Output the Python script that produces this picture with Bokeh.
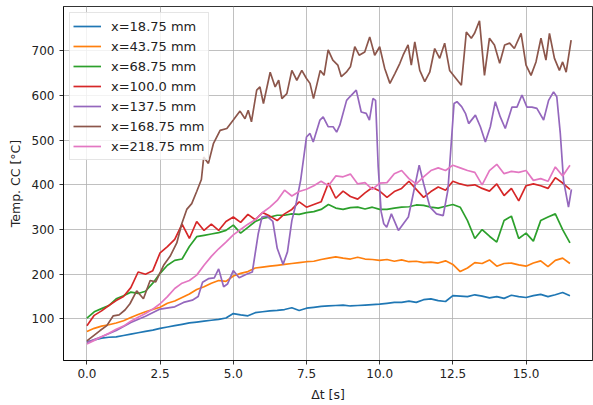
import numpy as np
from bokeh.plotting import figure
from bokeh.models import FixedTicker, NumeralTickFormatter, Legend, LegendItem, Range1d
from bokeh.embed import file_html
from bokeh.resources import INLINE

# ---- data ----
labels = ["x=18.75 mm", "x=43.75 mm", "x=68.75 mm", "x=100.0 mm",
          "x=137.5 mm", "x=168.75 mm", "x=218.75 mm"]
colors = ["#1f77b4", "#ff7f0e", "#2ca02c", "#d62728", "#9467bd", "#8c564b", "#e377c2"]

# common sampling time base (s)
t_grid = np.arange(0, 16.51, 0.25)

blue = [48, 53, 57, 59, 60, 63, 66, 69, 72, 75,
        79, 82, 85, 88, 91, 93, 95, 97, 99, 102,
        112, 109, 107, 114, 116, 118, 119, 121, 125, 119,
        124, 126, 128, 129, 130, 131, 129, 130, 131, 132,
        133, 135, 137, 137, 140, 137, 143, 145, 141, 139,
        152, 151, 150, 154, 151, 147, 150, 146, 153, 150,
        148, 152, 155, 150, 154, 159, 152]

orange = [72, 79, 84, 87, 91, 96, 103, 110, 116, 121,
          126, 135, 140, 148, 156, 166, 172, 180, 186, 184,
          196, 202, 206, 214, 216, 218, 220, 222, 224, 226,
          228, 229, 233, 236, 239, 236, 234, 238, 234, 233,
          231, 233, 229, 232, 228, 229, 226, 227, 225, 230,
          222, 206, 214, 226, 224, 232, 218, 224, 225, 221,
          218, 225, 230, 217, 231, 236, 224]

green = [102, 116, 123, 130, 145, 152, 160, 157, 162, 180,
         202, 220, 231, 234, 262, 284, 287, 290, 293, 298,
         310, 292, 305, 318, 325, 328, 332, 332, 335, 334,
         338, 340, 345, 356, 348, 345, 349, 350, 346, 350,
         345, 345, 348, 350, 351, 355, 354, 350, 348, 352,
         356, 350, 320, 280, 300, 285, 272, 320, 330, 280,
         292, 274, 320, 328, 335, 300, 270]

red = [85, 108, 118, 130, 141, 150, 170, 205, 200, 208,
       248, 262, 278, 312, 280, 318, 298, 312, 298, 318,
       328, 316, 334, 322, 338, 330, 320, 335, 345, 362,
       350, 356, 362, 404, 370, 386, 374, 368, 382, 394,
       386, 372, 385, 392, 408, 390, 372, 385, 395, 388,
       408, 402, 398, 400, 392, 386, 402, 376, 392, 364,
       398, 402, 398, 392, 416, 404, 390]

pink = [44, 52, 60, 68, 77, 84, 95, 104, 112, 122,
        134, 150, 168, 180, 186, 198, 220, 240, 257, 272,
        288, 300, 312, 322, 338, 350, 365, 388, 375, 385,
        390, 398, 408, 398, 420, 418, 424, 402, 405, 390,
        404, 405, 425, 432, 414, 402, 418, 432, 438, 432,
        444, 438, 432, 428, 400, 432, 446, 425, 430, 428,
        432, 410, 414, 408, 440, 420, 444]

t_purple = [0, 0.5, 1.0, 1.5, 2.0, 2.5, 3.0, 3.3, 3.6, 3.8,
            3.95, 4.15, 4.35, 4.5, 4.67, 4.8, 5.0, 5.2, 5.45, 5.65,
            5.85, 5.98, 6.15, 6.35, 6.5, 6.7, 6.85, 7.0, 7.15, 7.3,
            7.5, 7.62, 7.73, 7.96, 8.07, 8.24, 8.41, 8.53, 8.64, 8.87,
            8.98, 9.2, 9.37, 9.54, 9.65, 9.77, 9.86, 9.95, 10.05, 10.14,
            10.24, 10.4, 10.64, 10.81, 10.98, 11.1, 11.35, 11.5, 11.72, 11.94,
            12.17, 12.33, 12.42, 12.54, 12.64, 12.8, 12.93, 13.04, 13.27, 13.44,
            13.61, 13.78, 13.95, 14.12, 14.29, 14.52, 14.69, 14.86, 15.03, 15.2,
            15.37, 15.6, 15.77, 15.94, 16.05, 16.17, 16.28, 16.45, 16.55]
purple = [48, 60, 74, 92, 106, 122, 127, 137, 142, 150,
          182, 190, 192, 212, 172, 178, 208, 192, 200, 205,
          290, 328, 330, 318, 258, 222, 250, 320, 360, 410,
          507, 515, 496, 545, 552, 530, 530, 518, 534, 589,
          597, 612, 563, 560, 545, 593, 589, 440, 340, 313,
          305, 335, 298, 313, 328, 365, 444, 403, 350, 335,
          331, 388, 470, 582, 586, 575, 560, 537, 556, 530,
          496, 530, 586, 552, 526, 574, 574, 601, 574, 574,
          571, 545, 589, 608, 597, 515, 410, 350, 390]

t_brown = [0, 0.45, 0.68, 0.9, 1.1, 1.3, 1.47, 1.7, 1.93, 2.16,
           2.35, 2.62, 2.84, 3.07, 3.24, 3.41, 3.58, 3.75, 3.91, 3.99,
           4.15, 4.32, 4.55, 4.78, 5.0, 5.23, 5.4, 5.51, 5.62, 5.8,
           5.91, 6.03, 6.26, 6.43, 6.55, 6.66, 6.83, 7.0, 7.17, 7.34,
           7.5, 7.62, 7.74, 7.97, 8.1, 8.24, 8.4, 8.57, 8.69, 8.86,
           9.0, 9.15, 9.3, 9.49, 9.66, 9.83, 10.0, 10.17, 10.35, 10.52,
           10.69, 10.8, 10.97, 11.08, 11.2, 11.37, 11.54, 11.71, 11.88, 12.05,
           12.22, 12.39, 12.56, 12.79, 12.96, 13.13, 13.24, 13.41, 13.58, 13.75,
           13.92, 14.1, 14.27, 14.44, 14.6, 14.83, 15.0, 15.17, 15.34, 15.51,
           15.68, 15.8, 15.97, 16.14, 16.25, 16.37, 16.54]
brown = [51, 74, 85, 107, 109, 120, 134, 163, 145, 186,
         183, 220, 240, 270, 313, 345, 358, 385, 412, 462,
         448, 492, 522, 526, 545, 565, 548, 567, 541, 612,
         619, 582, 652, 619, 634, 593, 604, 656, 634, 656,
         638, 627, 593, 656, 645, 702, 679, 668, 642, 652,
         664, 709, 690, 697, 731, 690, 709, 661, 627, 649,
         672, 690, 713, 668, 720, 656, 631, 652, 705, 683,
         717, 656, 642, 623, 742, 728, 739, 767, 645, 728,
         713, 672, 713, 717, 705, 739, 668, 645, 675, 728,
         679, 739, 683, 656, 675, 652, 724]

x_ticks = [0, 2.5, 5.0, 7.5, 10.0, 12.5, 15.0]
y_ticks = [100, 200, 300, 400, 500, 600, 700]

series = [(t_grid, blue), (t_grid, orange), (t_grid, green), (t_grid, red),
          (t_purple, purple), (t_brown, brown), (t_grid, pink)]

FONT = "DejaVu Sans"

p = figure(frame_width=529, frame_height=354,
           x_range=Range1d(-0.8, 17.27), y_range=Range1d(7, 799),
           output_backend="svg", toolbar_location=None,
           min_border_left=63, min_border_right=1, min_border_top=6, min_border_bottom=45,
           background_fill_color="white", border_fill_color="white")
p.outline_line_color = "black"
p.outline_line_width = 0.8

items = []
for (tt, vv), lab, col in zip(series, labels, colors):
    r = p.line(list(tt), vv, line_color=col, line_width=1.7)
    items.append(LegendItem(label=lab, renderers=[r]))

for ax in (p.xaxis[0], p.yaxis[0]):
    ax.axis_line_color = "black"
    ax.axis_line_width = 0.8
    ax.major_tick_line_color = "black"
    ax.major_tick_line_width = 0.8
    ax.major_tick_out = 4
    ax.major_tick_in = 0
    ax.minor_tick_line_color = None
    ax.major_label_text_font = FONT
    ax.major_label_text_font_size = "12px"
    ax.major_label_text_color = "#222222"
    ax.axis_label_text_font = FONT
    ax.axis_label_text_font_size = "12.5px"
    ax.axis_label_text_font_style = "normal"
    ax.axis_label_text_color = "#222222"

p.xaxis[0].ticker = FixedTicker(ticks=x_ticks)
p.xaxis[0].formatter = NumeralTickFormatter(format="0.0")
p.xaxis[0].axis_label = "Δt [s]"
p.xaxis[0].major_label_standoff = 4
p.xaxis[0].axis_label_standoff = 6
p.yaxis[0].ticker = FixedTicker(ticks=y_ticks)
p.yaxis[0].formatter = NumeralTickFormatter(format="0")
p.yaxis[0].axis_label = "Temp. CC [°C]"
p.yaxis[0].major_label_standoff = 5
p.yaxis[0].axis_label_standoff = 6

for g in (p.xgrid[0], p.ygrid[0]):
    g.grid_line_color = "#b0b0b0"
    g.grid_line_width = 0.8
p.xgrid[0].ticker = FixedTicker(ticks=x_ticks)
p.ygrid[0].ticker = FixedTicker(ticks=y_ticks)

legend = Legend(items=items, location="top_left", margin=6, padding=3, spacing=0,
                glyph_width=28, glyph_height=20, label_height=20, label_standoff=10,
                label_text_font=FONT, label_text_font_size="13px",
                label_text_color="#222222",
                border_line_color="#cccccc", border_line_width=1,
                background_fill_color="white", background_fill_alpha=0.8)
p.add_layout(legend)

open("out.html", "w").write(file_html(p, INLINE))
